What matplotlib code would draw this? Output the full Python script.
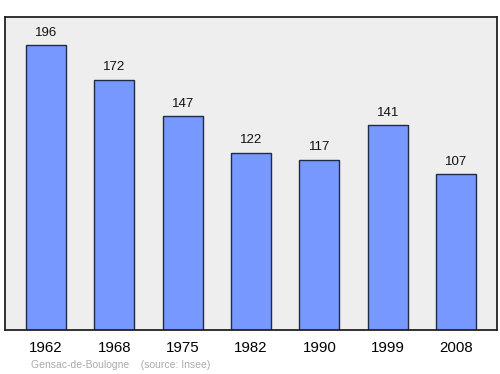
import matplotlib
matplotlib.use("Agg")
import matplotlib.pyplot as plt

years = ["1962", "1968", "1975", "1982", "1990", "1999", "2008"]
population = [196, 172, 147, 122, 117, 141, 107]

plt.rcParams['font.family'] = ['Liberation Sans', 'DejaVu Sans']

fig = plt.figure(figsize=(5, 3.74), dpi=100)
ax = fig.add_axes([0.01, 0.1176, 0.984, 0.8369])
ax.set_facecolor('#eeeeee')
x = list(range(len(years)))
ax.bar(x, population, width=0.585, color='#7799ff', edgecolor='#1f2a44', linewidth=1.0, zorder=2)
for xi, v in zip(x, population):
    ax.annotate(str(v), (xi, v), xytext=(0, 9.0), textcoords='offset points',
                ha='center', va='center', fontsize=9.5, color='#111111')
ax.set_xlim(-0.6, 6.6)
ax.set_ylim(0, 215.3)
ax.set_yticks([])
ax.set_xticks(x)
ax.set_xticklabels(years, fontsize=10.8)
ax.tick_params(axis='x', length=0, pad=8)
for s in ax.spines.values():
    s.set_color('#222222')
    s.set_linewidth(1.3)
fig.text(0.062, 0.024, "Gensac-de-Boulogne    (source: Insee)", fontsize=7.5, color='#aaaaaa', ha='left', va='center')
fig.savefig("out.png", dpi=100)
